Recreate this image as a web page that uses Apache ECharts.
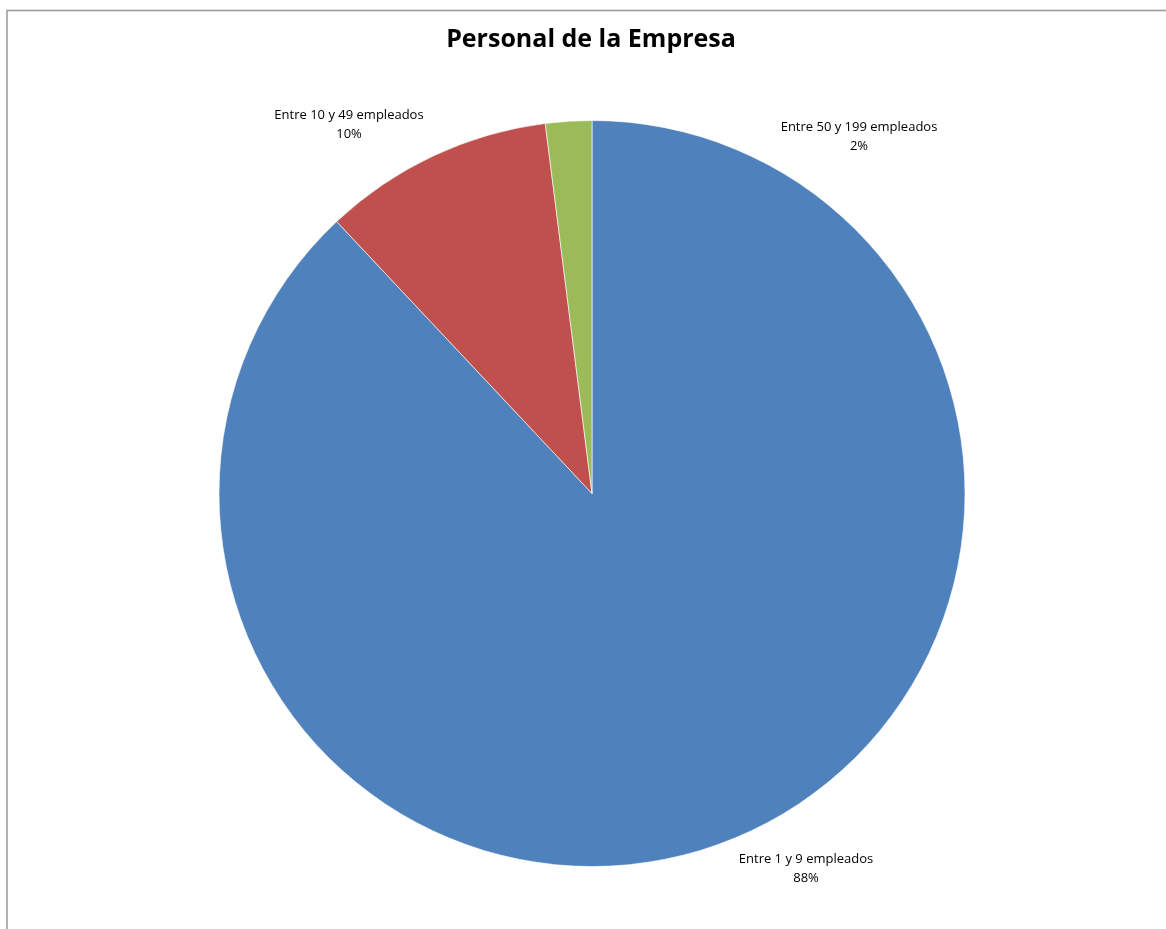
<!DOCTYPE html>
<html>
<head>
<meta charset="utf-8">
<script src="https://cdn.jsdelivr.net/npm/echarts@6/dist/echarts.min.js"></script>
<style>
html,body{margin:0;padding:0;background:#fff;}
#chart{width:1166px;height:929px;}
</style>
</head>
<body>
<div id="chart"></div>
<script>
// Data
const categories = ['Entre 1 y 9 empleados', 'Entre 10 y 49 empleados', 'Entre 50 y 199 empleados'];
const values = [88, 10, 2];
const colors = ['#4F81BD', '#C0504D', '#9BBB59'];
const titleText = 'Personal de la Empresa';

// Label placement (chart layout, pixel centres of label blocks)
const labelPos = [[806, 869], [349, 125], [859, 137]];

const chart = echarts.init(document.getElementById('chart'), null, {renderer: 'canvas'});
chart.setOption({
  backgroundColor: '#fff',
  animation: false,
  title: {
    text: titleText,
    left: 586,
    textAlign: 'center',
    top: 22,
    textStyle: {fontFamily: 'Open Sans', fontWeight: 'bold', fontSize: 25, color: '#000'}
  },
  graphic: [{
    type: 'rect',
    shape: {x: 7, y: 10.5, width: 1300, height: 1000},
    style: {fill: 'none', stroke: '#999', lineWidth: 1.5},
    silent: true,
    z: -1
  }],
  series: [{
    type: 'pie',
    center: [592, 493.5],
    radius: [0, 373],
    startAngle: 90,
    clockwise: true,
    data: categories.map((c, i) => ({name: c, value: values[i], itemStyle: {color: colors[i]}})),
    itemStyle: {borderColor: '#fff', borderWidth: 0.6},
    label: {
      show: true,
      position: 'outside',
      formatter: p => p.name + '\n' + p.value + '%',
      fontFamily: 'Open Sans',
      fontSize: 13,
      lineHeight: 19,
      color: '#000',
      align: 'center'
    },
    labelLine: {show: false},
    labelLayout: function (params) {
      const pos = labelPos[params.dataIndex];
      return {x: pos[0], y: pos[1], align: 'center', verticalAlign: 'middle'};
    },
    emphasis: {disabled: true}
  }]
});
</script>
</body>
</html>
